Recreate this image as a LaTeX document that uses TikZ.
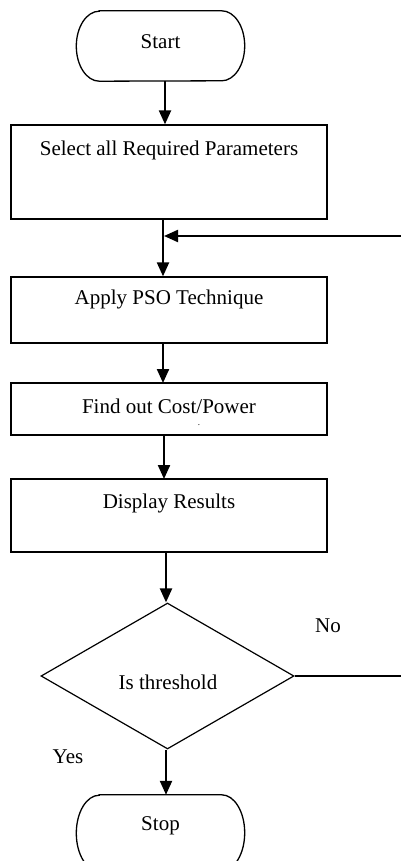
\documentclass[tikz,border=0pt]{standalone}
\usepackage{fontspec}
\setmainfont{Liberation Serif}
\usetikzlibrary{arrows.meta,shapes.geometric,calc}
\begin{document}
\begin{tikzpicture}[x=1pt,y=-1pt,
  font=\fontsize{21}{25}\selectfont,
  box/.style={draw,line width=1.3pt,inner sep=0pt,minimum width=316pt},
  ghost/.style={inner sep=0pt,minimum width=168pt},
  lbl/.style={inner sep=0pt},
  thinline/.style={line width=1.3pt},
  arr/.style={line width=2.2pt,-{Triangle[width=12pt,length=14pt]}}]
\useasboundingbox (0,0) rectangle (401,861);
\clip (0,0) rectangle (401,861);
\fill[white] (0,0) rectangle (401,861);
% terminals
\node[ghost,minimum height=70pt] (start) at (160.5,46) {};
\node[lbl] (starttext) at (160.5,42) {Start};
\node[ghost,minimum height=76pt] (stop) at (160.5,833) {};
\node[lbl] (stoptext) at (160.5,826) {Stop};
\draw[thinline] ([xshift=23pt]start.north west) -- ([xshift=-23pt]start.north east)
    arc[start angle=90,end angle=-90,x radius=23pt,y radius=35pt]
    -- ([xshift=23pt]start.south west)
    arc[start angle=-90,end angle=-270,x radius=23pt,y radius=35pt] -- cycle;
\draw[thinline] ([xshift=23pt]stop.north west) -- ([xshift=-23pt]stop.north east)
    arc[start angle=90,end angle=-90,x radius=23pt,y radius=38pt]
    -- ([xshift=23pt]stop.south west)
    arc[start angle=-90,end angle=-270,x radius=23pt,y radius=38pt] -- cycle;
% process boxes
\node[box,minimum height=94pt] (b1) at (169,172) {};
\node[lbl] (t1) at (169,150) {Select all Required Parameters};
\node[box,minimum height=66pt] (b2) at (169,310) {};
\node[lbl] (t2) at (169,299) {Apply PSO Technique};
\node[box,minimum height=52pt] (b3) at (169,409) {};
\node[lbl] (t3) at (169,406) {Find out Cost/Power};
\node[lbl,font=\fontsize{9}{10}\selectfont] (dot) at (199,425) {.};
\node[box,minimum height=73pt] (b4) at (169,515.5) {};
\node[lbl] (t4) at (169,503) {Display Results};
% decision
\node[diamond,draw,line width=1.2pt,inner sep=0pt,minimum width=253pt,minimum height=146pt] (dec) at (167.5,676) {};
\node[lbl] (dt) at (168,682) {Is threshold};
\node[lbl] (no) at (328,626) {No};
\node[lbl] (yes) at (68,757) {Yes};
% connectors
\draw[arr] ([xshift=4.5pt]start.south) -- ([xshift=4.5pt]start.south |- b1.north);
\coordinate (join) at (163,236);
\draw[line width=2.2pt] (163,219) coordinate (b1out) -- (join);
\draw[arr] (join) -- (join |- b2.north);
\coordinate (loopR) at (412,676);
\coordinate (loopT) at (412,236);
\draw[thinline] (dec.east) -- (loopR) -- (loopT);
\draw[arr] (loopT) -- ([xshift=1pt]join);
\draw[arr] (163,343) coordinate (b2out) -- (163,383) coordinate (b3in);
\draw[arr] (164,435) coordinate (b3out) -- (164,479) coordinate (b4in);
\draw[arr] (166,552) coordinate (b4out) -- (dec.north -| b4out);
\draw[arr] (dec.south -| b4out) -- (stop.north -| b4out);
\end{tikzpicture}
\end{document}
